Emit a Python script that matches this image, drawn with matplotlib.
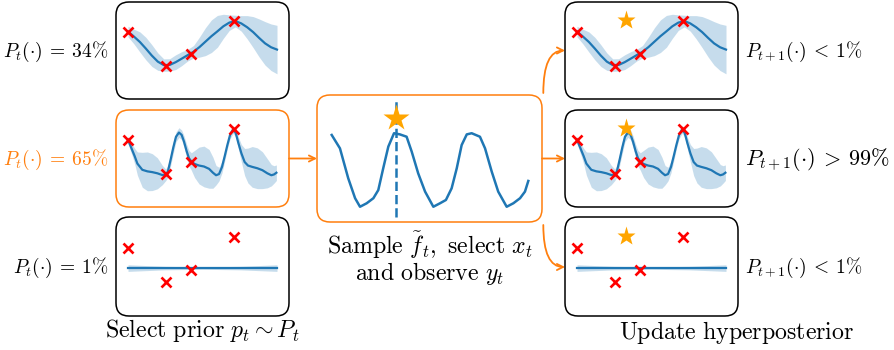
import matplotlib
matplotlib.use("Agg")
import matplotlib.pyplot as plt
from matplotlib.patches import FancyBboxPatch, FancyArrowPatch

plt.rcParams['mathtext.fontset'] = 'cm'

# ---------------- data ----------------
obs_x = [0.0, 0.257, 0.425, 0.711]
obs_y = [1.05, -0.72, -0.08, 1.60]

# prior 1 (smooth kernel)
p1_x = [0.00, 0.04, 0.08, 0.12, 0.16, 0.20, 0.24, 0.28, 0.32, 0.36, 0.40, 0.44, 0.48,
        0.52, 0.56, 0.60, 0.64, 0.68, 0.72, 0.76, 0.80, 0.84, 0.88, 0.92, 0.96, 1.00]
p1_mean = [1.06, 0.80, 0.52, 0.18, -0.18, -0.49, -0.67, -0.66, -0.52, -0.34, -0.16, 0.02, 0.26,
           0.54, 0.82, 1.07, 1.33, 1.52, 1.60, 1.48, 1.28, 1.03, 0.73, 0.45, 0.25, 0.13]
p1_std = [0.27, 0.38, 0.52, 0.58, 0.56, 0.45, 0.32, 0.32, 0.38, 0.36, 0.30, 0.32, 0.52,
          0.72, 0.84, 0.82, 0.62, 0.40, 0.30, 0.40, 0.60, 0.80, 0.98, 1.12, 1.20, 1.25]

# prior 2 (periodic kernel)
p2_x = [0.0, 0.029, 0.045, 0.063, 0.096, 0.130, 0.163, 0.197, 0.230, 0.253, 0.268, 0.286,
        0.304, 0.322, 0.342, 0.360, 0.376, 0.394, 0.409, 0.425, 0.447, 0.477, 0.510, 0.544,
        0.570, 0.591, 0.611, 0.631, 0.649, 0.667, 0.685, 0.705, 0.723, 0.740, 0.761, 0.783,
        0.805, 0.834, 0.868, 0.902, 0.935, 0.962, 0.980, 0.996]
p2_mean = [1.05, 0.50, 0.20, -0.18, -0.50, -0.58, -0.62, -0.68, -0.77, -0.76, -0.58, 0.02,
           0.65, 1.20, 1.42, 1.30, 0.95, 0.45, 0.10, -0.07, -0.20, -0.28, -0.33, -0.45,
           -0.65, -0.78, -0.72, -0.35, 0.20, 0.78, 1.30, 1.58, 1.40, 0.90, 0.35, -0.10,
           -0.28, -0.35, -0.42, -0.52, -0.68, -0.78, -0.74, -0.65]
p2_std = [0.20, 0.30, 0.40, 0.60, 0.90, 1.00, 0.95, 0.80, 0.50, 0.30, 0.30, 0.30,
          0.30, 0.25, 0.25, 0.25, 0.30, 0.35, 0.40, 0.45, 0.70, 0.95, 1.05, 1.00,
          0.80, 0.50, 0.35, 0.30, 0.25, 0.20, 0.20, 0.20, 0.20, 0.30, 0.45, 0.70,
          0.90, 1.05, 1.05, 0.95, 0.75, 0.55, 0.45, 0.40]

# prior 3 (flat)
p3_x = [0.0, 0.25, 0.5, 0.75, 1.0]
p3_mean = [0.0, 0.0, 0.0, 0.0, 0.0]
p3_std = [0.17, 0.09, 0.06, 0.09, 0.17]

# Thompson sample
s_x = [0.0, 0.042, 0.084, 0.119, 0.144, 0.178, 0.212, 0.237, 0.262, 0.288, 0.317, 0.347,
       0.381, 0.407, 0.440, 0.475, 0.517, 0.551, 0.581, 0.610, 0.636, 0.661, 0.687, 0.712,
       0.754, 0.780, 0.814, 0.847, 0.890, 0.924, 0.958, 0.983, 1.0]
s_y = [1.29, 0.60, -0.94, -1.97, -2.41, -2.23, -1.97, -1.55, -0.43, 0.69, 1.38, 1.32,
       1.20, 0.43, -0.69, -1.63, -2.41, -2.23, -2.06, -1.46, -0.43, 0.77, 1.32, 1.38,
       1.20, 0.60, -0.60, -1.63, -2.41, -2.23, -1.97, -1.63, -1.08]
s_argmax_x = 0.327
s_star_y = 2.18

new_x = 0.33
new_y = 1.63

left_labels = [r'$P_t(\cdot)\:=\:34\%$', r'$P_t(\cdot)\:=\:65\%$', r'$P_t(\cdot)\:=\:1\%$']
right_labels = [r'$P_{t+1}(\cdot)\:<\:1\%$', r'$P_{t+1}(\cdot)\:>\:99\%$', r'$P_{t+1}(\cdot)\:<\:1\%$']

# ---------------- styles ----------------
W, H = 895, 350
BLUE = '#1f77b4'
ORANGE = '#ff7f0e'
STAR = '#ffa500'

fig = plt.figure(figsize=(W / 100, H / 100), dpi=100)
ov = fig.add_axes([0, 0, 1, 1])
ov.set_xlim(0, W)
ov.set_ylim(H, 0)
ov.axis('off')


def box(x0, y0, x1, y1, color='black'):
    p = FancyBboxPatch((x0, y0), x1 - x0, y1 - y0,
                       boxstyle="round,pad=0,rounding_size=13",
                       fc='none', ec=color, lw=1.1)
    ov.add_patch(p)


def px_axes(x0, y0, x1, y1):
    return fig.add_axes([x0 / W, 1 - y1 / H, (x1 - x0) / W, (y1 - y0) / H])


rows = [(2, 99), (110, 207), (217, 316)]
priors = [(p1_x, p1_mean, p1_std), (p2_x, p2_mean, p2_std), (p3_x, p3_mean, p3_std)]
scale = 19.4

for col, (bx0, bx1) in enumerate([(116, 289), (565, 738)]):
    for r, ((by0, by1), (px, pm, ps)) in enumerate(zip(rows, priors)):
        color = ORANGE if (col == 0 and r == 1) else 'black'
        box(bx0, by0, bx1, by1, color)
        ax = px_axes(bx0, by0, bx1, by1)
        ax.axis('off')
        ax.set_xlim(-12 / 149, 1 + 12 / 149)
        zero = (by0 + by1) / 2 + 1.6
        ax.set_ylim(-(by1 - zero) / scale, (zero - by0) / scale)
        lo = [m - s for m, s in zip(pm, ps)]
        hi = [m + s for m, s in zip(pm, ps)]
        ax.fill_between(px, lo, hi, color=BLUE, alpha=0.25, lw=0)
        ax.plot(px, pm, color=BLUE, lw=1.6)
        ax.plot(obs_x, obs_y, 'x', color='red', ms=6.5, mew=1.9)
        if col == 1:
            ax.plot([new_x], [new_y], '*', color=STAR, ms=14, mec='none')

# middle box
box(317, 95, 542, 222, ORANGE)
axm = px_axes(317, 95, 542, 222)
axm.axis('off')
axm.set_xlim(-14.7 / 196.6, 1 + 13.7 / 196.6)
axm.set_ylim(-62 / scale, 65 / scale)
axm.plot(s_x, s_y, color=BLUE, lw=1.8)
axm.plot([s_argmax_x, s_argmax_x], [-2.92, 3.09], color=BLUE, lw=1.8, ls='--')
axm.plot([s_argmax_x], [s_star_y], '*', color=STAR, ms=20, mec='none')

# labels
for (by0, by1), lab, i in zip(rows, left_labels, range(3)):
    yc = (by0 + by1) / 2 + 1
    ov.text(108, yc, lab, ha='right', va='center', fontsize=14,
            color=ORANGE if i == 1 else 'black')
for (by0, by1), lab, i in zip(rows, right_labels, range(3)):
    yc = (by0 + by1) / 2 + 1
    ov.text(745, yc, lab, ha='left', va='center', fontsize=16 if i == 1 else 14)

TFS = 17.2
ov.text(202, 331, r'$\mathrm{Select\ prior}\ p_t \sim P_t$', ha='center', va='center', fontsize=TFS)
ov.text(430, 258,
        r'$\mathrm{Sample}\ \tilde{f}_t\mathrm{,\ select}\ x_t$' + '\n' + r'$\mathrm{and\ observe}\ y_t$',
        ha='center', va='center', multialignment='center', linespacing=0.95, fontsize=TFS)
ov.text(737, 333, r'$\mathrm{Update\ hyperposterior}$', ha='center', va='center', fontsize=TFS)

# arrows
akw = dict(arrowstyle='->', mutation_scale=11, color=ORANGE, lw=1.3, shrinkA=0, shrinkB=0)
ov.add_patch(FancyArrowPatch((289, 158.5), (317, 158.5), **akw))
ov.add_patch(FancyArrowPatch((542, 158.5), (565, 158.5), **akw))
ov.add_patch(FancyArrowPatch((543.3, 93), (565, 50.5),
                             connectionstyle='angle3,angleA=90,angleB=0', **akw))
ov.add_patch(FancyArrowPatch((543.3, 225), (565, 267),
                             connectionstyle='angle3,angleA=90,angleB=0', **akw))

fig.savefig('out.png', dpi=100)
